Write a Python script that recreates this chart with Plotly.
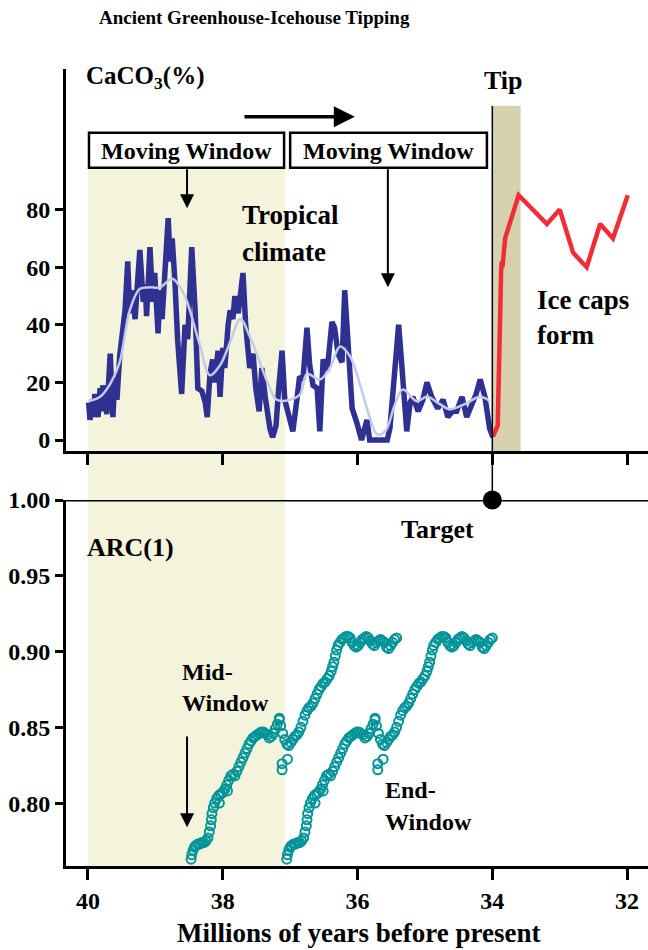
import plotly.graph_objects as go

# ---------------- data ----------------
# CaCO3 (%) record, greenhouse part (millions of years before present)
caco3_time = [39.99, 39.97, 39.94, 39.91, 39.90, 39.87, 39.85, 39.82, 39.79, 39.78,
              39.75, 39.72, 39.67, 39.63, 39.60, 39.57, 39.53, 39.48, 39.45, 39.41,
              39.38, 39.35, 39.30, 39.27, 39.23, 39.18, 39.15, 39.13, 39.08, 39.04,
              39.01, 38.96, 38.93, 38.90, 38.86, 38.81, 38.78, 38.75, 38.71, 38.67,
              38.61, 38.56, 38.52, 38.49, 38.46, 38.41, 38.37, 38.31, 38.26, 38.23,
              38.19, 38.15, 38.12, 38.07, 38.04, 38.00, 37.97, 37.92, 37.89, 37.85,
              37.82, 37.77, 37.70, 37.66, 37.60, 37.55, 37.51, 37.46, 37.42, 37.37,
              37.30, 37.26, 37.21, 37.17, 37.12, 37.08, 37.00, 36.96, 36.90, 36.86,
              36.81, 36.75, 36.71, 36.66, 36.60, 36.56, 36.51, 36.45, 36.38, 36.34,
              36.29, 36.23, 36.19, 36.14, 36.08, 36.01, 35.94, 35.86, 35.82, 35.77,
              35.67, 35.56, 35.52, 35.48, 35.42, 35.39, 35.34, 35.27, 35.22, 35.18,
              35.10, 35.03, 34.97, 34.90, 34.81, 34.73, 34.66, 34.59, 34.53, 34.45,
              34.38, 34.30, 34.24, 34.18, 34.11, 34.04, 33.99]
caco3_value = [13, 7, 14, 8, 16, 12, 8, 18, 10, 19,
               12, 9, 30, 8, 22, 14, 29, 37, 45, 62,
               44, 52, 42, 53, 66, 48, 54, 43, 67, 48,
               58, 37, 52, 42, 60, 77, 62, 70, 55, 35,
               16, 40, 35, 55, 67, 45, 18, 17, 13, 8,
               23, 28, 20, 31, 15, 32, 25, 40, 45, 42,
               50, 44, 58, 40, 25, 30, 18, 10, 25, 15,
               4, 1, 5, 18, 31, 14, 7, 3, 14, 22,
               21, 39, 26, 19, 18, 3, 28, 24, 41, 39,
               30, 27, 52, 30, 11, 6, 0, 7, 0, 0,
               0, 0, 4, 15, 30, 40, 25, 3, 13, 15,
               10, 14, 20, 15, 11, 14, 8, 10, 10, 15,
               8, 12, 16, 21, 15, 4, 1]

# smoothed CaCO3 record
smooth_time = [39.99, 39.82, 39.67, 39.53, 39.38, 39.23, 39.08, 38.93, 38.75, 38.63,
               38.53, 38.34, 38.19, 38.04, 37.89, 37.74, 37.60, 37.45, 37.30, 37.20,
               37.00, 36.85, 36.75, 36.56, 36.41, 36.26, 36.11, 35.96, 35.82, 35.71,
               35.59, 35.45, 35.33, 35.12, 34.97, 34.78, 34.63, 34.41, 34.18, 34.04]
smooth_value = [13.5, 15, 19.5, 27, 45, 52.5, 53, 53, 56, 53,
                48, 33, 22.5, 26, 34, 42, 36, 27, 18, 14,
                14, 16, 23, 21, 25, 32.5, 29, 19, 8, 2,
                3, 12, 17.5, 13.5, 15, 12.5, 10.7, 12.5, 15, 13.5]

# CaCO3 after the tipping point (icehouse)
ice_time = [33.99, 33.92, 33.87, 33.86, 33.85, 33.81, 33.61, 33.19, 33.00, 32.80,
            32.60, 32.40, 32.21, 31.99]
ice_value = [1.4, 5, 58, 62, 60, 70, 85, 75, 80, 65,
             60, 75, 70, 85]

# ARC(1) indicator, plotted at the end of each moving window
arc_time_end = [37.05, 37.04, 37.02, 37.00, 36.98, 36.95, 36.92, 36.89, 36.86, 36.83,
                36.80, 36.78, 36.76, 36.75, 36.74, 36.72, 36.70, 36.67, 36.64, 36.63,
                36.61, 36.58, 36.55, 36.52, 36.51, 36.49, 36.46, 36.43, 36.40, 36.37,
                36.34, 36.31, 36.28, 36.25, 36.22, 36.19, 36.16, 36.13, 36.10, 36.07,
                36.04, 36.01, 35.98, 35.95, 35.92, 35.89, 35.86, 35.83, 35.80, 35.77,
                35.74, 35.74, 35.72, 35.70, 35.70, 35.69, 35.66, 35.63, 35.62, 35.60,
                35.57, 35.54, 35.51, 35.48, 35.45, 35.42, 35.39, 35.36, 35.33, 35.30,
                35.27, 35.24, 35.21, 35.18, 35.15, 35.12, 35.09, 35.06, 35.03, 35.00,
                34.97, 34.95, 34.93, 34.91, 34.89, 34.87, 34.84, 34.81, 34.78, 34.75,
                34.72, 34.69, 34.66, 34.63, 34.60, 34.57, 34.54, 34.51, 34.48, 34.45,
                34.42, 34.39, 34.36, 34.33, 34.30, 34.27, 34.24, 34.21, 34.18, 34.15,
                34.12, 34.09, 34.06, 34.03, 34.00]
arc_value = [0.763, 0.766, 0.769, 0.771, 0.772, 0.773, 0.773, 0.774, 0.774, 0.775,
             0.777, 0.781, 0.785, 0.789, 0.793, 0.797, 0.800, 0.803, 0.805, 0.800,
             0.806, 0.807, 0.809, 0.812, 0.808, 0.815, 0.818, 0.819, 0.818, 0.821,
             0.824, 0.827, 0.830, 0.833, 0.836, 0.839, 0.841, 0.843, 0.844, 0.845,
             0.846, 0.847, 0.847, 0.846, 0.845, 0.843, 0.844, 0.846, 0.849, 0.852,
             0.855, 0.856, 0.851, 0.822, 0.826, 0.846, 0.842, 0.839, 0.829, 0.838,
             0.840, 0.842, 0.844, 0.845, 0.847, 0.850, 0.854, 0.858, 0.861, 0.863,
             0.864, 0.866, 0.869, 0.872, 0.875, 0.877, 0.879, 0.880, 0.882, 0.884,
             0.887, 0.890, 0.893, 0.897, 0.901, 0.904, 0.906, 0.908, 0.909, 0.910,
             0.910, 0.909, 0.906, 0.904, 0.903, 0.904, 0.906, 0.908, 0.909, 0.910,
             0.909, 0.907, 0.905, 0.904, 0.906, 0.907, 0.908, 0.907, 0.906, 0.903,
             0.902, 0.904, 0.906, 0.908, 0.909]
half_window = 1.42          # mid-window points sit half a window earlier

window_start, window_end = 40.0, 37.08
tip_start, tip_end = 34.0, 33.58
target_time, target_arc = 34.0, 1.0

x_ticks = [40, 38, 36, 34, 32]
caco3_ticks = [0, 20, 40, 60, 80]
arc_ticks = [0.80, 0.85, 0.90, 0.95, 1.00]
arc_ticklabels = ["0.80", "0.85", "0.90", "0.95", "1.00"]

# ---------------- styling / layout ----------------
W, H = 648, 950
ML = 66
FONT = "Liberation Serif, Times New Roman, serif"
NAVY = "#2E3192"
LIGHT = "#C3CBE8"
RED = "#EE2D36"
TEAL = "#009499"
CREAM = "#F4F4DC"
TAN = "#D6D0AE"


def px(x):
    return (x - ML) / (W - ML)


def py(y):
    return 1 - y / H


arc_time_mid = [t + half_window for t in arc_time_end]

fig = go.Figure()

fig.add_trace(go.Scatter(x=caco3_time, y=caco3_value, mode="lines",
                         line=dict(color=NAVY, width=5.5), xaxis="x", yaxis="y"))
fig.add_trace(go.Scatter(x=smooth_time, y=smooth_value, mode="lines",
                         line=dict(color=LIGHT, width=2.5, shape="spline", smoothing=1.0),
                         xaxis="x", yaxis="y"))
fig.add_trace(go.Scatter(x=ice_time, y=ice_value, mode="lines",
                         line=dict(color=RED, width=4.5), xaxis="x", yaxis="y"))

marker = dict(symbol="circle-open", size=9, color=TEAL, line=dict(color=TEAL, width=2))
fig.add_trace(go.Scatter(x=arc_time_mid, y=arc_value, mode="markers", marker=marker,
                         xaxis="x2", yaxis="y2"))
fig.add_trace(go.Scatter(x=arc_time_end, y=arc_value, mode="markers", marker=marker,
                         xaxis="x2", yaxis="y2"))
fig.add_trace(go.Scatter(x=[target_time], y=[target_arc], mode="markers",
                         marker=dict(color="black", size=19), cliponaxis=False,
                         xaxis="x2", yaxis="y2"))

xr = [40.326, 31.69]
top_range = [-3.8, 128.8]
bot_range = [0.7585, 1.0]

axis_common = dict(showline=True, linewidth=3, linecolor="black", ticks="outside",
                   tickwidth=3, tickcolor="black", showgrid=False, zeroline=False,
                   tickfont=dict(family=FONT, size=24, color="black", weight="bold"))

fig.update_layout(
    width=W, height=H,
    margin=dict(l=ML, r=0, t=0, b=0, autoexpand=False),
    paper_bgcolor="white", plot_bgcolor="rgba(0,0,0,0)",
    showlegend=False,
    xaxis=dict(domain=[0, 1], range=xr, anchor="y", tickvals=x_ticks,
               showticklabels=False, ticklen=11, **axis_common),
    yaxis=dict(domain=[py(451), py(69)], range=top_range, anchor="x",
               tickvals=caco3_ticks, ticklen=8, **axis_common),
    xaxis2=dict(domain=[0, 1], range=xr, anchor="y2", tickvals=x_ticks,
                ticklen=11, **axis_common),
    yaxis2=dict(domain=[py(866), py(500)], range=bot_range, anchor="x2",
                tickvals=arc_ticks, ticktext=arc_ticklabels, ticklen=8, **axis_common),
)

shapes = []
# moving window band
shapes.append(dict(type="rect", xref="x", yref="paper", x0=window_start, x1=window_end,
                   y0=py(866), y1=py(168), fillcolor=CREAM, line=dict(width=0), layer="below"))
# tip band
shapes.append(dict(type="rect", xref="x", yref="y", x0=tip_start, x1=tip_end,
                   y0=top_range[0], y1=116, fillcolor=TAN, line=dict(width=0), layer="below"))
# tip vertical line to target
shapes.append(dict(type="line", xref="x", yref="paper", x0=tip_start, x1=tip_start,
                   y0=py(500), y1=py(106), line=dict(color="black", width=1.5)))
# ARC = 1 line
shapes.append(dict(type="line", xref="paper", yref="y2", x0=0, x1=1, y0=1.0, y1=1.0,
                   line=dict(color="black", width=3)))
# moving window boxes
for x0, x1 in [(39.985, 37.09), (37.00, 34.08)]:
    shapes.append(dict(type="rect", xref="x", yref="y", x0=x0, x1=x1, y0=94.5, y1=106.7,
                       fillcolor="white", line=dict(color="black", width=2.5), layer="above"))
fig.update_layout(shapes=shapes)


def text(x, y, s, size, xanchor="left"):
    fig.add_annotation(x=px(x), y=py(y), xref="paper", yref="paper", text=s,
                       showarrow=False, xanchor=xanchor, yanchor="middle",
                       font=dict(family=FONT, size=size, color="black", weight="bold"))


text(97, 18, "Ancient Greenhouse-Icehouse Tipping", 19)
text(84, 78, "CaCO<sub>3</sub>(%)", 25)
text(503, 80, "Tip", 26, "center")
text(186.5, 151, "Moving Window", 24, "center")
text(388.5, 151, "Moving Window", 24, "center")
text(240, 215, "Tropical", 27)
text(240, 252, "climate", 27)
text(535, 300, "Ice caps", 27)
text(535, 335, "form", 27)
text(85, 547, "ARC(1)", 26)
text(438, 529, "Target", 26, "center")
text(180, 672, "Mid-", 24)
text(180, 703, "Window", 24)
text(383, 790, "End-", 24)
text(383, 822, "Window", 24)
text(358, 933, "Millions of years before present", 27, "center")

# arrows
fig.add_annotation(x=36.04, y=112.2, ax=37.70, ay=112.2, xref="x", yref="y",
                   axref="x", ayref="y", showarrow=True, arrowhead=2, arrowsize=1.2,
                   arrowwidth=3.5, arrowcolor="black", text="")
fig.add_annotation(x=38.53, y=80.5, ax=38.53, ay=94.5, xref="x", yref="y",
                   axref="x", ayref="y", showarrow=True, arrowhead=2, arrowsize=1.4,
                   arrowwidth=2, arrowcolor="black", text="")
fig.add_annotation(x=35.55, y=53, ax=35.55, ay=94.5, xref="x", yref="y",
                   axref="x", ayref="y", showarrow=True, arrowhead=2, arrowsize=1.4,
                   arrowwidth=2, arrowcolor="black", text="")
fig.add_annotation(x=38.53, y=0.784, ax=38.53, ay=0.845, xref="x2", yref="y2",
                   axref="x2", ayref="y2", showarrow=True, arrowhead=2, arrowsize=1.4,
                   arrowwidth=2, arrowcolor="black", text="")

fig.write_html("out.html",
               config={"displayModeBar": False},
               post_script="document.body.style.margin='0';"
                           "document.documentElement.style.overflow='hidden';")
